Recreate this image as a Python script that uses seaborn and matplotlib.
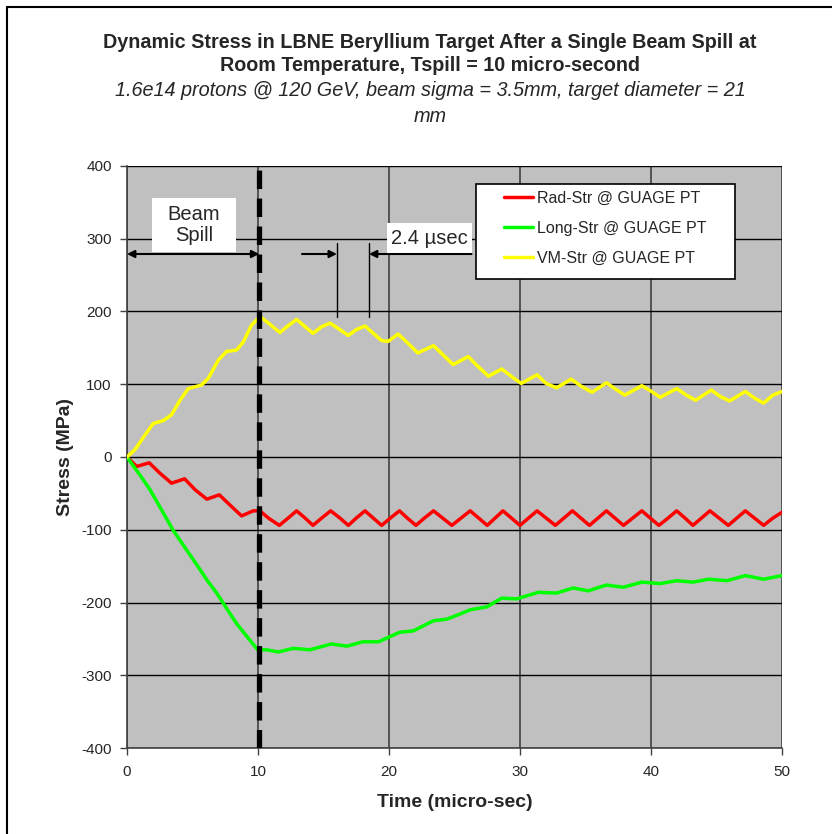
import numpy as np
import pandas as pd
import matplotlib
matplotlib.use("Agg")
import matplotlib.pyplot as plt
from matplotlib.lines import Line2D
from matplotlib.patches import Rectangle
import seaborn as sns

# values (time in micro-sec, stress in MPa)
rad_t = [0, 0.74, 1.7, 2.5, 3.4, 4.4, 5.2, 6.1, 7.05, 7.86, 8.75, 9.64, 10.15,
         10.8, 11.63, 12.3, 12.95, 13.6, 14.2, 14.86, 15.55, 16.26, 16.9, 17.5, 18.17,
         18.8, 19.44, 20.1, 20.8, 21.4, 22.06, 22.7, 23.4, 24.1, 24.8, 25.5, 26.2,
         26.85, 27.5, 28.1, 28.7, 29.35, 30.0, 30.65, 31.3, 32.0, 32.7, 33.35, 34.0,
         34.65, 35.3, 35.95, 36.6, 37.25, 37.9, 38.6, 39.3, 39.95, 40.6, 41.3, 41.96,
         42.6, 43.2, 43.85, 44.5, 45.2, 45.9, 46.55, 47.2, 47.9, 48.6, 49.3, 50.0]
rad_s = [0, -13, -8, -22, -36, -30, -45, -58, -52, -66, -81, -74, -74,
         -84, -94, -84, -74, -84, -94, -84, -74, -84, -94, -84, -74,
         -84, -94, -84, -74, -84, -94, -84, -74, -84, -94, -84, -74,
         -84, -94, -84, -74, -84, -94, -84, -74, -84, -94, -84, -74,
         -84, -94, -84, -74, -84, -94, -84, -74, -84, -94, -84, -74,
         -84, -94, -84, -74, -84, -94, -84, -74, -84, -94, -84, -76]

long_t = [0, 1.0, 1.76, 2.65, 3.5, 4.56, 5.44, 6.1, 6.85, 7.6, 8.37, 9.26, 9.98,
          10.66, 11.55, 12.7, 13.97, 15.6, 16.8, 18.0, 19.2, 20.8, 21.86, 23.4, 24.4,
          25.4, 26.2, 27.46, 28.6, 29.75, 31.4, 32.8, 34.07, 35.2, 36.6, 37.9, 39.3,
          40.7, 41.96, 43.2, 44.4, 45.8, 47.2, 48.6, 50.0]
long_s = [0, -25, -45, -73, -100, -128, -151, -169, -187, -208, -229, -249, -265,
          -265, -268, -263, -265, -257, -260, -254, -254, -241, -239, -225, -223,
          -216, -210, -206, -194, -195, -186, -187, -180, -184, -176, -179, -172,
          -174, -170, -172, -168, -170, -163, -168, -163]

vm_t = [0, 0.61, 1.37, 2.0, 2.77, 3.4, 4.05, 4.68, 5.7, 6.2, 6.97, 7.6, 8.37, 8.88,
        9.5, 10.15, 10.8, 11.68, 12.2, 12.95, 13.6, 14.2, 14.86, 15.5, 16.26, 16.9,
        17.5, 18.17, 18.8, 19.44, 19.95, 20.7, 21.47, 22.2, 23.4, 24.15, 24.9, 26.05,
        26.7, 27.6, 28.6, 29.4, 30.1, 31.3, 32.0, 32.8, 33.9, 34.7, 35.5, 36.6, 37.4,
        38.0, 39.3, 40.05, 40.7, 41.96, 42.7, 43.4, 44.6, 45.3, 46.0, 47.2, 47.9,
        48.6, 49.3, 50.0]
vm_s = [0, 10, 30, 46, 50, 58, 78, 94, 99, 108, 133, 145, 147, 158,
        181, 193, 184, 171, 179, 189, 179, 170, 179, 184, 175, 167,
        175, 180, 170, 160, 159, 169, 156, 143, 153, 140, 127, 138,
        126, 111, 121, 110, 101, 113, 101, 95, 107, 97, 89, 102, 92,
        85, 98, 90, 82, 94, 85, 78, 92, 83, 77, 90, 81,
        74, 85, 90]

series_names = ["Rad-Str @ GUAGE PT", "Long-Str @ GUAGE PT", "VM-Str @ GUAGE PT"]
series_colors = ["#FF0000", "#00FF00", "#FFFF00"]

df = pd.concat([
    pd.DataFrame({"t": rad_t, "s": rad_s, "series": series_names[0]}),
    pd.DataFrame({"t": long_t, "s": long_s, "series": series_names[1]}),
    pd.DataFrame({"t": vm_t, "s": vm_s, "series": series_names[2]}),
], ignore_index=True)

sns.set_style("ticks")
plt.rcParams["font.family"] = ["Liberation Sans", "DejaVu Sans"]
plt.rcParams["axes.unicode_minus"] = False

fig = plt.figure(figsize=(8.32, 8.34), dpi=100)
ax = fig.add_axes([0.1526, 0.1031, 0.7873, 0.6979])
ax.set_facecolor("#C0C0C0")

sns.lineplot(data=df, x="t", y="s", hue="series", hue_order=series_names,
             palette=series_colors, sort=False, estimator=None, linewidth=2.5,
             solid_joinstyle="round", solid_capstyle="round", ax=ax, zorder=3)

ax.set_xlim(0, 50)
ax.set_ylim(-400, 400)
ax.set_xticks(np.arange(0, 51, 10))
ax.set_yticks(np.arange(-400, 401, 100))
ax.grid(True, axis="y", color="black", linewidth=1.0)
ax.grid(True, axis="x", color="#404040", linewidth=1.2)
for side in ["top", "right"]:
    ax.spines[side].set_visible(False)
for side in ["left", "bottom"]:
    ax.spines[side].set_color("#404040")
    ax.spines[side].set_linewidth(1.2)
ax.tick_params(axis="both", direction="out", length=5, width=1, color="#404040",
               labelsize=11, pad=6)
ax.tick_params(axis="x", pad=7)

ax.set_xlabel("Time (micro-sec)", fontsize=14, fontweight="bold", labelpad=11)
ax.set_ylabel("Stress (MPa)", fontsize=14, fontweight="bold", labelpad=5)

# end of beam spill
ax.axvline(10.1, color="black", linewidth=3.8, linestyle=(0, (3.5, 1.8)), zorder=4)

arrow_kw = dict(color="black", lw=1.5, mutation_scale=11, shrinkA=0, shrinkB=0)

# Beam Spill annotation
ax.annotate("", xy=(0, 279), xytext=(10.1, 279),
            arrowprops=dict(arrowstyle="<|-|>", **arrow_kw), zorder=5)
ax.add_patch(Rectangle((1.9, 282), 6.4, 74, facecolor="white", edgecolor="none", zorder=5))
ax.text(5.1, 319, "Beam\nSpill", fontsize=14.5, ha="center", va="center",
        linespacing=1.1, zorder=6)

# 2.4 usec annotation
ax.annotate("", xy=(16.03, 279), xytext=(13.36, 279),
            arrowprops=dict(arrowstyle="-|>", **arrow_kw), zorder=5)
ax.annotate("", xy=(18.47, 279), xytext=(26.3, 279),
            arrowprops=dict(arrowstyle="-|>", **arrow_kw), zorder=5)
ax.plot([16.03, 16.03], [192, 294], color="black", lw=1.0, zorder=5)
ax.plot([18.47, 18.47], [192, 294], color="black", lw=1.0, zorder=5)
ax.add_patch(Rectangle((19.85, 280.5), 6.45, 41, facecolor="white", edgecolor="none", zorder=5))
ax.text(23.1, 300, "2.4 \u00b5sec", fontsize=14.5, ha="center", va="center", zorder=6)

# legend box
ax.add_patch(Rectangle((0.5328, 0.8058), 0.3954, 0.1632, transform=ax.transAxes,
                       facecolor="white", edgecolor="black", linewidth=1.2, zorder=6))
leg = ax.legend(loc="upper left", bbox_to_anchor=(0.5756, 0.958), fontsize=11.5,
                frameon=False, handlelength=1.8, handletextpad=0.25,
                labelspacing=0.95, borderpad=0, borderaxespad=0)
leg.set_zorder(7)
for h in leg.get_lines():
    h.set_linewidth(2.5)

fig.text(0.517, 0.949, "Dynamic Stress in LBNE Beryllium Target After a Single Beam Spill at",
         ha="center", va="center", fontsize=14.2, fontweight="bold")
fig.text(0.517, 0.922, "Room Temperature, Tspill = 10 micro-second",
         ha="center", va="center", fontsize=14.2, fontweight="bold")
fig.text(0.517, 0.891, "1.6e14 protons @ 120 GeV, beam sigma = 3.5mm, target diameter = 21",
         ha="center", va="center", fontsize=14.3, fontstyle="italic")
fig.text(0.517, 0.860, "mm", ha="center", va="center", fontsize=14.3, fontstyle="italic")

# chart frame (left and top edges visible)
fig.add_artist(Line2D([0.0084, 0.0084], [0, 0.9916], color="black", lw=1.5))
fig.add_artist(Line2D([0.0084, 1.0], [0.9916, 0.9916], color="black", lw=1.5))

fig.savefig("out.png", dpi=100)
